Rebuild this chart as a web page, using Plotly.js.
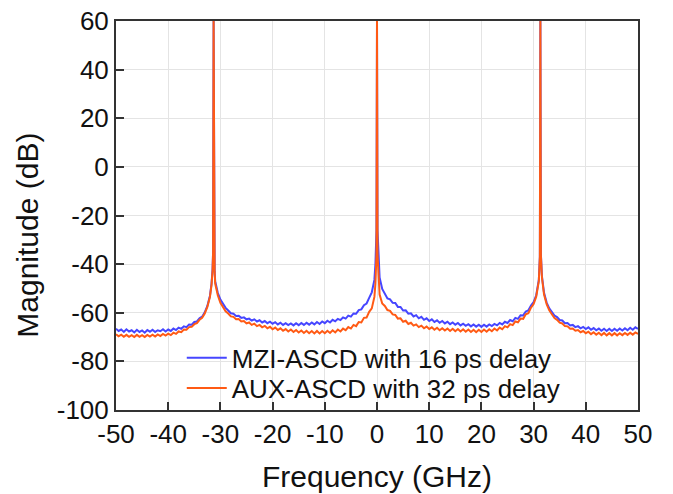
<!DOCTYPE html>
<html>
<head>
<meta charset="utf-8">
<script src="https://cdn.plot.ly/plotly-3.0.1.min.js"></script>
<style>html,body{margin:0;padding:0;background:#fff;}#chart{width:673px;height:494px;}</style>
</head>
<body>
<div id="chart"></div>
<script>
// Frequency (GHz)
const freq = [
-50,-49.5,-49,-48.5,-48,-47.5,-47,-46.5,-46,-45.5,-45,-44.5,-44,-43.5,-43,-42.5,-42,-41.5,-41,-40.5,-40,-39.5,-39,-38.5,-38,-37.5,-37,-36.5,-36,-35.5,-35,-34.5,-34,-33.5,-33,-32.5,-32,
-31.7,-31.5,-31.4,-31.3,-31.2,-31.1,-31,
-30.5,-30,-29.5,-29,-28.5,-28,-27.5,-27,-26.5,-26,-25.5,-25,-24.5,-24,-23.5,-23,-22.5,-22,-21.5,-21,-20.5,-20,-19.5,-19,-18.5,-18,-17.5,-17,-16.5,-16,-15.5,-15,-14.5,-14,-13.5,-13,-12.5,-12,-11.5,-11,-10.5,-10,-9.5,-9,-8.5,-8,-7.5,-7,-6.5,-6,-5.5,-5,-4.5,-4,-3.5,-3,-2.5,-2,-1.5,-1,-0.5,
-0.3,-0.1,0,0.1,0.3,
0.5,1,1.5,2,2.5,3,3.5,4,4.5,5,5.5,6,6.5,7,7.5,8,8.5,9,9.5,10,10.5,11,11.5,12,12.5,13,13.5,14,14.5,15,15.5,16,16.5,17,17.5,18,18.5,19,19.5,20,20.5,21,21.5,22,22.5,23,23.5,24,24.5,25,25.5,26,26.5,27,27.5,28,28.5,29,29.5,30,30.5,31,
31.2,31.3,31.4,31.6,
32,32.5,33,33.5,34,34.5,35,35.5,36,36.5,37,37.5,38,38.5,39,39.5,40,40.5,41,41.5,42,42.5,43,43.5,44,44.5,45,45.5,46,46.5,47,47.5,48,48.5,49,49.5,50
];

// MZI-ASCD with 16 ps delay (dB)
const mzi = [
-66.6,-67.5,-66.9,-67.9,-66.8,-67.7,-67.2,-68.1,-67.0,-67.9,-67.3,-68.2,-67.1,-67.8,-67.0,-67.9,-67.2,-67.6,-66.8,-67.7,-66.9,-67.5,-66.5,-67.1,-66.1,-66.6,-65.6,-65.9,-64.8,-64.9,-63.8,-63.6,-62.3,-61.6,-59.8,-57.2,-53,
-48,-42,-35,60,-36,-43,-47,
-51.8,-54.6,-56.4,-58.0,-59.1,-60.2,-60.4,-61.3,-61.2,-62.1,-61.9,-62.7,-62.4,-63.2,-62.7,-63.6,-63.1,-64.0,-63.4,-64.3,-63.7,-64.5,-63.9,-64.8,-64.1,-65.0,-64.3,-65.1,-64.4,-65.2,-64.3,-65.1,-64.2,-65.0,-64.1,-64.9,-64.0,-64.8,-63.8,-64.6,-63.6,-64.3,-63.3,-64.0,-62.9,-63.5,-62.5,-63.0,-61.9,-62.4,-61.2,-61.6,-60.3,-60.4,-58.9,-58.6,-56.9,-56.2,-53.9,-51.6,-46.5,
-40,-26,60,-26,-39,
-45.5,-50.2,-52.0,-54.1,-54.5,-55.9,-56.0,-57.6,-57.6,-59.1,-59.0,-60.4,-60.2,-61.5,-61.0,-62.3,-61.7,-62.9,-62.3,-63.4,-62.7,-63.8,-63.1,-64.1,-63.4,-64.4,-63.7,-64.7,-64.0,-64.9,-64.2,-65.2,-64.5,-65.4,-64.7,-65.6,-64.8,-65.7,-64.9,-65.8,-64.9,-65.7,-64.8,-65.5,-64.6,-65.2,-64.2,-64.8,-63.7,-64.2,-63.0,-63.5,-62.1,-62.5,-61.0,-61.1,-59.5,-59.0,-57.0,-55.6,-52.8,-46.5,
-37,60,-36,-45,
-51.8,-55.8,-58.2,-59.7,-61.2,-61.8,-63.0,-63.2,-64.3,-64.2,-65.2,-65.0,-65.9,-65.5,-66.4,-65.8,-66.7,-66.0,-67.0,-66.3,-67.2,-66.5,-67.4,-66.6,-67.5,-66.6,-67.5,-66.6,-67.4,-66.5,-67.3,-66.4,-67.2,-66.2,-67.0,-66.0,-66.6
];

// AUX-ASCD with 32 ps delay (dB)
const aux = [
-68.8,-69.7,-69.0,-69.9,-69.1,-69.9,-69.2,-70.0,-69.1,-69.9,-69.2,-70.0,-69.1,-69.8,-69.0,-69.8,-68.9,-69.6,-68.7,-69.4,-68.6,-69.2,-68.2,-68.7,-67.7,-68.0,-66.9,-67.0,-65.9,-65.8,-64.7,-64.3,-62.9,-62.1,-60.3,-57.6,-53.4,
-48.5,-42.5,-35,60,-36,-43.5,-48,
-52.8,-55.9,-57.6,-59.4,-60.3,-61.5,-61.7,-62.7,-62.6,-63.6,-63.4,-64.4,-64.0,-65.0,-64.5,-65.5,-65.0,-66.0,-65.4,-66.4,-65.8,-66.8,-66.1,-67.1,-66.4,-67.4,-66.7,-67.7,-66.9,-67.9,-67.1,-68.1,-67.3,-68.3,-67.4,-68.4,-67.5,-68.5,-67.5,-68.5,-67.5,-68.4,-67.4,-68.3,-67.2,-68.1,-66.9,-67.7,-66.5,-67.2,-65.9,-66.5,-65.0,-65.5,-63.8,-64.0,-62.1,-62.0,-59.6,-58.2,-53.5,
-48,-36,60,-36,-47,
-52.5,-56.2,-57.2,-58.9,-59.2,-60.7,-60.9,-62.4,-62.3,-63.7,-63.3,-64.6,-64.1,-65.3,-64.8,-65.9,-65.3,-66.4,-65.7,-66.7,-66.0,-67.0,-66.2,-67.2,-66.4,-67.3,-66.5,-67.5,-66.6,-67.6,-66.7,-67.7,-66.8,-67.8,-66.9,-67.9,-67.0,-68.0,-67.0,-67.9,-66.9,-67.8,-66.8,-67.6,-66.5,-67.3,-66.1,-66.8,-65.5,-66.0,-64.7,-65.1,-63.6,-63.9,-62.4,-62.5,-60.6,-60.2,-57.9,-56.4,-53.4,-47.0,
-37,60,-36.5,-45.5,
-52.5,-56.5,-59.0,-60.6,-62.2,-62.9,-64.1,-64.4,-65.5,-65.6,-66.6,-66.5,-67.4,-67.1,-68.0,-67.5,-68.4,-67.8,-68.8,-68.0,-69.0,-68.2,-69.2,-68.3,-69.3,-68.4,-69.3,-68.4,-69.3,-68.4,-69.2,-68.3,-69.1,-68.2,-69.0,-68.1,-68.7
];

const seriesNames = ["MZI-ASCD with 16 ps delay", "AUX-ASCD with 32 ps delay"];
const xTicks = [-50,-40,-30,-20,-10,0,10,20,30,40,50];
const yTicks = [-100,-80,-60,-40,-20,0,20,40,60];
const xTitle = "Frequency (GHz)";
const yTitle = "Magnitude (dB)";

const fontFam = "Liberation Sans, Arial, sans-serif";

const traces = [
  {x: freq, y: mzi, name: seriesNames[0], type: "scatter", mode: "lines",
   line: {color: "#4646ff", width: 2}, legend: "legend"},
  {x: freq, y: aux, name: seriesNames[1], type: "scatter", mode: "lines",
   line: {color: "#ff5a14", width: 2}, legend: "legend2"}
];

const axisCommon = {
  showline: true, mirror: true, linecolor: "#333", linewidth: 2,
  ticks: "inside", ticklen: 8, tickwidth: 2, tickcolor: "#333",
  showgrid: true, gridcolor: "#e4e4e4", gridwidth: 1,
  zeroline: false,
  tickfont: {family: fontFam, size: 26, color: "#111"}
};

const legendCommon = {
  x: 0.126, xanchor: "left", yanchor: "middle",
  bgcolor: "rgba(0,0,0,0)", borderwidth: 0, itemwidth: 40,
  font: {family: fontFam, size: 26, color: "#111"}
};

const layout = {
  width: 673, height: 494,
  margin: {l: 116, r: 35, t: 21, b: 84},
  paper_bgcolor: "#fff", plot_bgcolor: "#fff",
  showlegend: true,
  legend: Object.assign({}, legendCommon, {y: 0.134}),
  legend2: Object.assign({}, legendCommon, {y: 0.056}),
  xaxis: Object.assign({}, axisCommon, {
    range: [-50, 50], tickvals: xTicks, ticktext: xTicks.map(String),
    title: {text: xTitle, font: {family: fontFam, size: 30, color: "#111"}, standoff: 18}
  }),
  yaxis: Object.assign({}, axisCommon, {
    range: [-100, 60], tickvals: yTicks, ticktext: yTicks.map(String)
  }),
  annotations: [{
    text: yTitle, textangle: -90, showarrow: false,
    xref: "paper", yref: "paper", x: -0.169, y: 0.45,
    xanchor: "center", yanchor: "middle",
    font: {family: fontFam, size: 30, color: "#111"}
  }]
};

Plotly.newPlot("chart", traces, layout, {displayModeBar: false, staticPlot: true});
</script>
</body>
</html>
